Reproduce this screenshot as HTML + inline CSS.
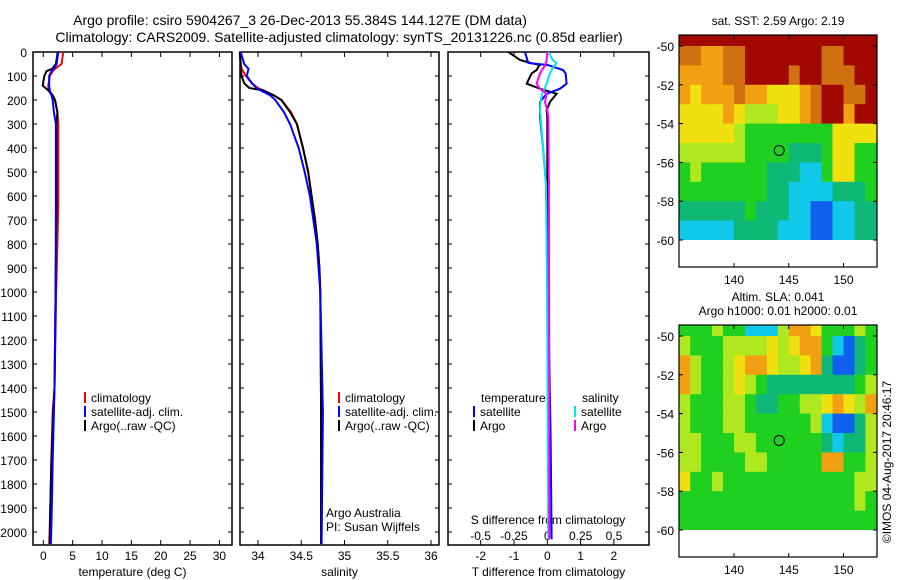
<!DOCTYPE html>
<html><head><meta charset="utf-8"><style>
body{margin:0;background:#fff;}
svg{display:block;font-family:"Liberation Sans",sans-serif;}
text{fill:#000;}
</style></head><body>
<svg id="c" width="900" height="580" viewBox="0 0 900 580">
<text x="300" y="25" font-size="14" text-anchor="middle">Argo profile: csiro 5904267_3 26-Dec-2013 55.384S 144.127E (DM data)</text>
<text x="339" y="42" font-size="14" text-anchor="middle">Climatology: CARS2009. Satellite-adjusted climatology: synTS_20131226.nc (0.85d earlier)</text>
<text transform="translate(891,462) rotate(-90)" font-size="12" text-anchor="middle">©IMOS 04-Aug-2017 20:46:17</text>
</svg>
<script>
// ---- data ----
const depthTicks=[0,100,200,300,400,500,600,700,800,900,1000,1100,1200,1300,1400,1500,1600,1700,1800,1900,2000];
const tempTicks=[0,5,10,15,20,25,30];
const salTicks=[34,34.5,35,35.5,36];
const tdiffTicks=[-2,-1,0,1,2];
const sdiffTicks=[-0.5,-0.25,0,0.25,0.5];
const sdiffLabels=["-0.5","-0.25","0","0.25","0.5"];

const depthT=[0,50,70,80,100,140,160,180,200,250,300,640,1000,1400,1500,1700,1900,2050];
const tempClim=[3.4,3.1,2.0,1.6,1.1,0.85,0.9,1.4,2.0,2.4,2.55,2.55,2.2,1.9,1.6,1.36,1.2,1.0];
const tempSat=[2.55,2.27,1.8,1.4,1.0,1.0,1.1,1.4,1.6,1.8,2.15,2.15,2.1,1.9,1.8,1.6,1.45,1.3];
const tempArgo=[2.45,2.15,1.5,0.57,0.17,-0.1,0.85,1.6,2.0,2.4,2.25,2.25,2.1,1.9,1.7,1.4,1.2,1.1];

const depthS=[0,50,70,100,130,150,160,180,200,250,300,400,500,600,700,800,900,1000,1500,2050];
const salClim=[33.79,33.8,33.81,33.86,33.93,34.0,34.06,34.18,34.27,34.38,34.45,34.52,34.58,34.62,34.66,34.69,34.71,34.72,34.73,34.73];
const salSat=[33.8,33.84,33.89,33.87,33.93,33.98,34.03,34.14,34.2,34.3,34.37,34.47,34.54,34.6,34.64,34.68,34.7,34.72,34.75,34.735];
const salArgo=[33.79,33.8,33.8,33.81,33.84,33.9,34.06,34.18,34.27,34.37,34.45,34.52,34.58,34.62,34.66,34.69,34.71,34.72,34.73,34.73];

const depthD=[0,33,46,54,57,75,89,132,153,174,208,243,271,410,549,800,1200,1600,2030];
const tdiffArgo=[-1.17,-0.82,-0.5,-0.22,-0.25,-0.32,-0.47,-0.62,-0.22,0.28,0.08,-0.02,0.0,0.0,0.0,0.0,0.02,0.03,0.05];
const tdiffSat=[-0.67,-0.6,-0.57,0.0,0.08,0.47,0.55,0.58,0.38,-0.02,-0.22,-0.22,-0.22,-0.12,-0.04,0.0,0.05,0.1,0.13];
const sdiffSat=[0.008,0.04,0.07,0.06,0.05,0.033,0.02,-0.005,-0.02,-0.04,-0.05,-0.055,-0.05,-0.03,-0.01,-0.005,0.0,0.003,0.008];
const sdiffArgo=[0,-0.005,-0.01,-0.015,-0.017,-0.04,-0.055,-0.08,-0.055,-0.005,-0.017,0.0,0.008,0.01,0.012,0.013,0.014,0.015,0.015];

// map grids: rows lat -49.5 .. -59.5, cols lon 135.5 .. 152.5 ; colour-class 0..9
const mapLats=[-49.5,-50.5,-51.5,-52.5,-53.5,-54.5,-55.5,-56.5,-57.5,-58.5,-59.5];
const mapLons=[135.5,136.5,137.5,138.5,139.5,140.5,141.5,142.5,143.5,144.5,145.5,146.5,147.5,148.5,149.5,150.5,151.5,152.5];
const sstGrid=[
[9,9,9,9,9,9,9,9,9,9,9,9,9,9,9,9,9,9],
[8,8,7,7,8,8,9,9,9,9,9,9,9,8,8,9,9,9],
[7,7,7,7,8,8,9,9,9,9,8,9,9,8,8,8,9,9],
[7,6,7,7,7,8,7,7,6,6,6,7,8,9,9,8,8,9],
[6,6,6,6,7,6,5,5,5,6,6,7,8,9,9,7,9,9],
[6,6,6,6,6,5,4,4,4,4,4,4,4,4,6,6,6,6],
[5,5,5,5,5,5,4,4,4,4,3,3,3,4,6,6,4,4],
[4,5,4,4,4,4,4,4,3,3,3,2,2,4,6,6,4,4],
[4,4,4,4,4,4,4,4,3,3,2,2,2,2,3,3,3,4],
[3,3,3,3,3,3,4,3,3,3,2,2,1,1,2,2,3,3],
[2,2,2,2,2,3,3,3,3,2,2,2,1,1,2,2,3,3]];
const slaGrid=[
[4,4,4,5,4,4,2,2,2,5,7,7,6,4,4,4,5,4],
[5,4,4,4,5,5,5,5,6,5,6,7,7,4,2,1,3,4],
[7,5,4,4,5,6,7,7,6,5,5,6,7,3,1,1,3,4],
[7,5,4,4,5,6,5,4,3,3,3,3,3,3,3,3,4,5],
[5,4,4,4,5,5,4,3,3,4,4,5,5,6,7,6,5,7],
[5,4,4,4,5,5,4,4,4,4,4,4,5,2,1,1,3,5],
[5,5,4,4,4,5,5,4,4,4,4,4,4,3,2,3,3,5],
[5,5,4,4,4,4,5,5,4,4,4,4,4,7,7,4,4,5],
[6,4,4,5,4,4,4,4,4,4,4,4,4,4,4,4,5,5],
[4,4,4,4,4,4,4,4,4,4,4,4,4,4,4,4,5,4],
[4,4,4,4,4,4,4,4,4,4,4,4,4,4,4,4,4,4]];
const palette=["#0010a0","#1060f0","#10c8e8","#10b878","#20d020","#b0e820","#f0e010","#f0a010","#d07010","#a00800"];
const floatLon=144.127, floatLat=-55.384;
const mapXTicks=[140,145,150];
const mapYTicks=[-50,-52,-54,-56,-58,-60];

// ---- drawing ----
const svg=document.getElementById('c');
const NS='http://www.w3.org/2000/svg';
function mk(tag,attrs,parent){const e=document.createElementNS(NS,tag);for(const k in attrs)e.setAttribute(k,attrs[k]);(parent||svg).appendChild(e);return e;}
function txt(x,y,s,size,anchor,parent){const t=mk('text',{x:x,y:y,'font-size':size,'text-anchor':anchor||'start'},parent);t.textContent=s;return t;}

const Y0=52, KY=0.24, TOP=52, BOT=545;
const yD=d=>Y0+d*KY;
const xT=v=>43.3+v*5.87;
const xS=v=>258+(v-34)*86.5;
const xTD=v=>547.3+v*33.3;
const xSD=v=>547.3+v*133.3;

const panels=[{l:33,r:232,name:'temperature-panel'},{l:240,r:439,name:'salinity-panel'},{l:448,r:649,name:'difference-panel'}];
panels.forEach(p=>{
  const g=mk('g',{});
  
  
  p.g=g;
  const r=mk('rect',{x:p.l,y:TOP,width:p.r-p.l,height:BOT-TOP,fill:'none',stroke:'#000','stroke-width':1.5},g);
  
  
});
// depth axis
const yax=mk('g',{});


depthTicks.forEach(d=>{
  const y=yD(d);
  txt(27,y+5,String(d),12,'end',yax);
  panels.forEach(p=>{mk('line',{x1:p.l,x2:p.l+4,y1:y,y2:y,stroke:'#000'},yax);mk('line',{x1:p.r-4,x2:p.r,y1:y,y2:y,stroke:'#000'},yax);});
});
function xAxis(p,ticks,fx,labels,title){
  const g=mk('g',{},p.g);
  
  
  ticks.forEach((t,i)=>{const x=fx(t);
    mk('line',{x1:x,x2:x,y1:BOT,y2:BOT-5,stroke:'#000'},g);
    mk('line',{x1:x,x2:x,y1:TOP,y2:TOP+5,stroke:'#000'},g);
    txt(x,560,labels?labels[i]:String(t),12,'middle',g);});
  txt((p.l+p.r)/2,576,title,12,'middle',g);
}
xAxis(panels[0],tempTicks,xT,null,'temperature (deg C)');
xAxis(panels[1],salTicks,xS,null,'salinity');
xAxis(panels[2],tdiffTicks,xTD,null,'T difference from climatology');
// S diff secondary labels inside
const sg=mk('g',{},panels[2].g);


txt(548,524,'S difference from climatology',12,'middle',sg);
sdiffTicks.forEach((t,i)=>{txt(xSD(t),540,sdiffLabels[i],12,'middle',sg);});

function line(p,ds,vs,fx,color,name){
  const pts=ds.map((d,i)=>fx(vs[i]).toFixed(1)+','+yD(d).toFixed(1)).join(' ');
  const pl=mk('polyline',{points:pts,fill:'none',stroke:color,'stroke-width':2},p.g);
  
  
}
line(panels[0],depthT,tempClim,xT,'#ff0000','temp-climatology-line');
line(panels[0],depthT,tempArgo,xT,'#000000','temp-argo-line');
line(panels[0],depthT,tempSat,xT,'#0000ff','temp-satellite-line');
line(panels[1],depthS,salClim,xS,'#ff0000','sal-climatology-line');
line(panels[1],depthS,salArgo,xS,'#000000','sal-argo-line');
line(panels[1],depthS,salSat,xS,'#0000ff','sal-satellite-line');
line(panels[2],depthD,tdiffArgo,xTD,'#000000','tdiff-argo-line');
line(panels[2],depthD,tdiffSat,xTD,'#0000ff','tdiff-satellite-line');
line(panels[2],depthD,sdiffSat,xSD,'#00e8e8','sdiff-satellite-line');
line(panels[2],depthD,sdiffArgo,xSD,'#ff00ff','sdiff-argo-line');

function legend(p,x,y,color,label,name){
  const g=mk('g',{},p.g);
  
  
  mk('rect',{x:x,y:y-10,width:2,height:11,fill:color},g);
  txt(x+7,y,label,12,'start',g);
}
legend(panels[0],84,402,'#ff0000','climatology','legend-climatology');
legend(panels[0],84,416,'#0000ff','satellite-adj. clim.','legend-satellite');
legend(panels[0],84,430,'#000000','Argo(..raw -QC)','legend-argo');
legend(panels[1],338,402,'#ff0000','climatology','legend-climatology-2');
legend(panels[1],338,416,'#0000ff','satellite-adj. clim.','legend-satellite-2');
legend(panels[1],338,430,'#000000','Argo(..raw -QC)','legend-argo-2');
txt(326,517,'Argo Australia',12,'start',panels[1].g);
txt(326,531,'PI: Susan Wijffels',12,'start',panels[1].g);
txt(481,402,'temperature',12,'start',panels[2].g);
txt(582,402,'salinity',12,'start',panels[2].g);
legend(panels[2],473,416,'#0000ff','satellite','legend-t-satellite');
legend(panels[2],473,430,'#000000','Argo','legend-t-argo');
legend(panels[2],574,416,'#00e8e8','satellite','legend-s-satellite');
legend(panels[2],574,430,'#ff00ff','Argo','legend-s-argo');

// maps
function drawMap(name,top,bot,y50,title,grid){
  const L=679,R=877,KX=10.95,KL=19.4;
  const mx=v=>734+(v-140)*KX;
  const my=v=>y50+(-50-v)*KL;
  const g=mk('g',{});
  
  
  const clip=mk('clipPath',{id:name+'-clip'},g);
  mk('rect',{x:L,y:top,width:R-L,height:my(-60)-top},clip);
  const cg=mk('g',{'clip-path':'url(#'+name+'-clip)'},g);
  grid.forEach((row,i)=>row.forEach((v,j)=>{
    const x0=mx(mapLons[j]-0.5),y0=my(mapLats[i]+0.5);
    const c=mk('rect',{x:x0.toFixed(1),y:y0.toFixed(1),width:(KX+0.6).toFixed(1),height:(KL+0.6).toFixed(1),fill:palette[v]},cg);
    
    
  }));
  mk('rect',{x:L,y:top,width:R-L,height:bot-top,fill:'none',stroke:'#000','stroke-width':1.2},g);
  const ci=mk('circle',{cx:mx(floatLon),cy:my(floatLat),r:5,fill:'none',stroke:'#000'},g);
  
  
  mapXTicks.forEach(t=>{const x=mx(t);mk('line',{x1:x,x2:x,y1:bot,y2:bot-4,stroke:'#000'},g);mk('line',{x1:x,x2:x,y1:top,y2:top+4,stroke:'#000'},g);txt(x,bot+17,String(t),12,'middle',g);});
  mapYTicks.forEach(t=>{const y=my(t);mk('line',{x1:L,x2:L+4,y1:y,y2:y,stroke:'#000'},g);mk('line',{x1:R-4,x2:R,y1:y,y2:y,stroke:'#000'},g);txt(L-5,y+5,String(t),12,'end',g);});
  const n=title.length;
  title.forEach((s,i)=>txt(778,top-10-(n-1-i)*14,s,12,'middle',g));
}
drawMap('sst-map',35,267,46,['sat. SST: 2.59 Argo: 2.19'],sstGrid);
drawMap('sla-map',325,557,336,['Altim. SLA: 0.041','Argo h1000: 0.01 h2000: 0.01'],slaGrid);
</script>
</body></html>
